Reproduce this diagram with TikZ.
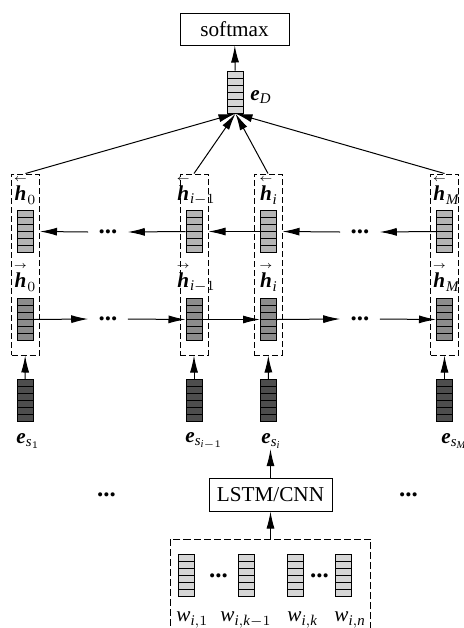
\documentclass[tikz,border=0pt]{standalone}
\usepackage{amsmath}
\usepackage{fontspec}
\setmainfont{Liberation Serif}
\usetikzlibrary{arrows.meta,positioning}

\definecolor{cellLight}{HTML}{D6D6D6}
\definecolor{cellBack}{HTML}{B4B4B4}
\definecolor{cellFwd}{HTML}{8C8C8C}
\definecolor{cellSent}{HTML}{4D4D4D}

\newcommand{\bv}[1]{\text{\bfseries\itshape #1}}
\newcommand{\iv}[1]{\text{\itshape #1}}
\newcommand{\hbw}{\overset{\scriptscriptstyle\leftarrow}{\bv{h}}}
\newcommand{\hfw}{\overset{\scriptscriptstyle\rightarrow}{\bv{h}}}
\newcommand{\etc}{{\fontsize{12.5}{12.5}\selectfont\bfseries ...}}

\begin{document}
\begin{tikzpicture}[x=0.5pt, y=-0.5pt, font=\fontsize{10.6}{12}\selectfont,
box/.style={rectangle, draw, line width=0.5pt, inner sep=0pt, align=center},
group/.style={rectangle, draw, dash pattern=on 3pt off 1.5pt, line width=0.5pt, minimum width=14pt, minimum height=90.5pt, inner sep=0pt},
vect/.style={rectangle, draw, line width=0.5pt, minimum width=8pt, minimum height=21pt, inner sep=0pt,
  path picture={\foreach \k in {1,...,5} \draw[line width=0.5pt] ([yshift=\k*3.5pt]path picture bounding box.south west) -- ([yshift=\k*3.5pt]path picture bounding box.south east);}},
dots/.style={inner sep=5pt},
lbl/.style={inner sep=0pt, anchor=west},
flow/.style={-{Latex[length=8.5pt,width=4pt]}, line width=0.5pt}
]
\useasboundingbox (0,0) rectangle (463,628);

% output
\node[box, minimum width=54.5pt, minimum height=16pt] (softmax) at (234.5,29) {softmax};
\node[vect, fill=cellLight] (eD) at (235.5,92) {};
\node[lbl] (lD) at (250,97) {$\bv{e}_{\iv{D}}$};

% sentence columns
\node[group] (col0) at (25.5,264.5) {};
\node[group] (col1) at (194,264.5) {};
\node[group] (col2) at (268,264.5) {};
\node[group] (col3) at (444.5,264.5) {};

\node[vect, fill=cellBack] (bw0) at (25,231.5) {};
\node[vect, fill=cellBack] (bw1) at (194,231.5) {};
\node[vect, fill=cellBack] (bw2) at (268.5,231.5) {};
\node[vect, fill=cellBack] (bw3) at (444.5,231.5) {};
\node at (25,190) {$\hbw_0$};
\node at (196,190) {$\hbw_{\iv{i}-1}$};
\node at (268.5,190) {$\hbw_{\iv{i}}$};
\node at (446,190) {$\hbw_{\iv{M}}$};

\node[vect, fill=cellFwd] (fw0) at (25,319.5) {};
\node[vect, fill=cellFwd] (fw1) at (194,319.5) {};
\node[vect, fill=cellFwd] (fw2) at (268.5,319.5) {};
\node[vect, fill=cellFwd] (fw3) at (444.5,319.5) {};
\node at (25,277) {$\hfw_0$};
\node at (196,277) {$\hfw_{\iv{i}-1}$};
\node at (268.5,277) {$\hfw_{\iv{i}}$};
\node at (446,277) {$\hfw_{\iv{M}}$};

\node[vect, fill=cellSent] (es0) at (25,400.5) {};
\node[vect, fill=cellSent] (es1) at (194,400.5) {};
\node[vect, fill=cellSent] (es2) at (268.5,400.5) {};
\node[vect, fill=cellSent] (es3) at (444.5,400.5) {};
\node[lbl] (ls0) at (16,441) {$\bv{e}_{\iv{s}_1}$};
\node[lbl] (ls1) at (185,441) {$\bv{e}_{\iv{s}_{\iv{i}-1}}$};
\node[lbl] (ls2) at (261,441) {$\bv{e}_{\iv{s}_{\iv{i}}}$};
\node[lbl] (ls3) at (441,441) {$\bv{e}_{\iv{s}_{\iv{M}}}$};

\node[dots] (bd0) at (108,232) {\etc};
\node[dots] (bd1) at (360,232) {\etc};
\node[dots] (fd0) at (108,319) {\etc};
\node[dots] (fd1) at (360,319) {\etc};

% sentence encoder
\node[box, minimum width=61.5pt, minimum height=16.5pt] (lstm) at (270.5,494.5) {LSTM/CNN};
\node (sd0) at (106.5,495) {\etc};
\node (sd1) at (408.5,495) {\etc};

\node[group, minimum width=100pt, minimum height=60pt, dash pattern=on 3.5pt off 1.5pt] (words) at (270.5,599) {};
\node[vect, fill=cellLight] (w1) at (186,575) {};
\node[vect, fill=cellLight] (w2) at (246,575) {};
\node[vect, fill=cellLight] (w3) at (295.5,575) {};
\node[vect, fill=cellLight] (w4) at (343,575) {};
\node (wd0) at (218.5,576) {\etc};
\node (wd1) at (319.5,576) {\etc};
\node[lbl] (lw1) at (176,620) {$\iv{w}_{\iv{i},1}$};
\node[lbl] (lw2) at (220,620) {$\iv{w}_{\iv{i},\iv{k}-1}$};
\node[lbl] (lw3) at (287,620) {$\iv{w}_{\iv{i},\iv{k}}$};
\node[lbl] (lw4) at (334,620) {$\iv{w}_{\iv{i},\iv{n}}$};

% connectors
\draw[flow] (eD) -- (softmax);
\draw[flow] (col0.north) -- (eD.south);
\draw[flow] (col1.north) -- (eD.south);
\draw[flow] (col2.north) -- (eD.south);
\draw[flow] (col3.north) -- (eD.south);

\draw[flow] (bw3.west) -- (bd1.east);
\draw[flow] (bd1.west) -- (col2.east |- bw2);
\draw[flow] (bw2.west) -- (col1.east |- bw1);
\draw[flow] (bw1.west) -- (bd0.east);
\draw[flow] (bd0.west) -- (col0.east |- bw0);

\draw[flow] (fw0.east) -- (fd0.west);
\draw[flow] (fd0.east) -- (fw1.west);
\draw[flow] (fw1.east) -- (fw2.west);
\draw[flow] (fw2.east) -- (fd1.west);
\draw[flow] (fd1.east) -- (fw3.west);

\draw[flow] (es0) -- (col0);
\draw[flow] (es1) -- (col1);
\draw[flow] (es2) -- (col2);
\draw[flow] (es3) -- (col3);

\draw[flow] (lstm.north) -- (lstm.north |- ls2.south);
\draw[flow] (words.north) -- (lstm.south);
\end{tikzpicture}
\end{document}
